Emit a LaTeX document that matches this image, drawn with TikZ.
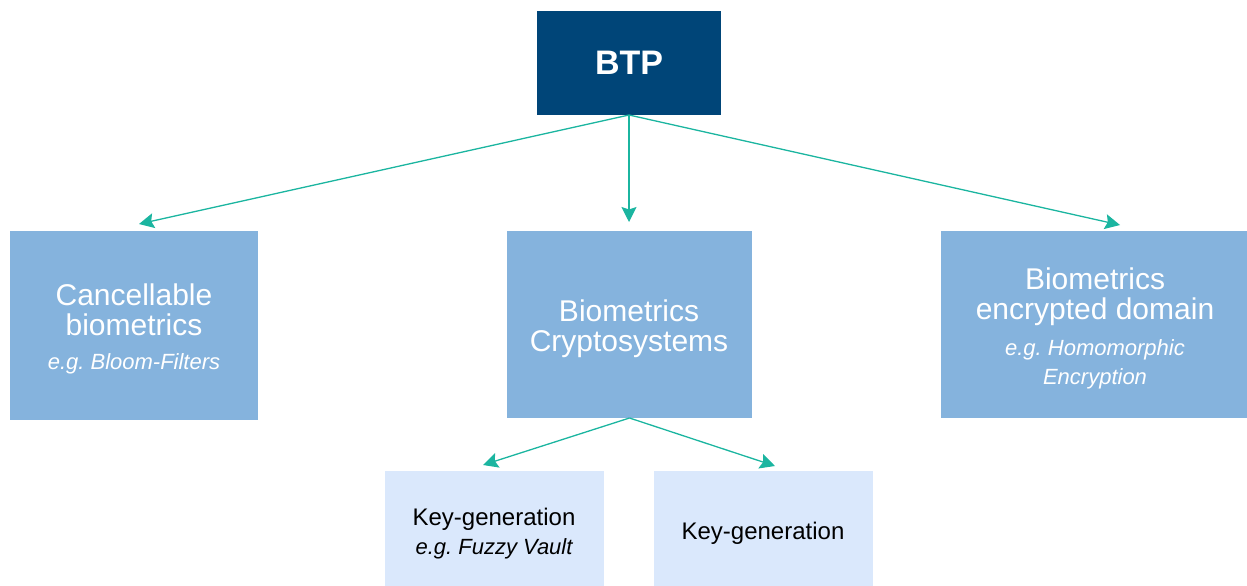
\documentclass[tikz,border=0pt]{standalone}
\usepackage{fontspec}
\setmainfont{Liberation Sans}
\usetikzlibrary{arrows.meta}
\definecolor{btpblue}{HTML}{004578}
\definecolor{midblue}{HTML}{85B3DD}
\definecolor{lightblue}{HTML}{DAE8FC}
\definecolor{teal}{HTML}{1BB5A0}
\tikzset{
  box/.style={inner sep=0pt, outer sep=0pt, align=center, anchor=center},
  topbox/.style={box, fill=btpblue, text=white, font=\fontsize{34}{36}\selectfont\bfseries},
  midbox/.style={box, fill=midblue, text=white, font=\fontsize{30}{30}\selectfont},
  lowbox/.style={box, fill=lightblue, text=black, font=\fontsize{24}{30}\selectfont},
  conn/.style={draw=teal, line width=1.3pt, -{Stealth[length=15pt,width=15pt,inset=2.5pt]}},
  eg/.style={font=\fontsize{22}{28}\selectfont\itshape}
}
\begin{document}
\frenchspacing
\begin{tikzpicture}[x=1pt,y=-1pt]
\useasboundingbox (0,0) rectangle (1247,586);
\node[topbox, minimum width=184pt, minimum height=104pt] (btp) at (629,63) {BTP};
\node[midbox, minimum width=248pt, minimum height=189pt] (cancel) at (134,325.5) {};
\node[midbox, minimum width=245pt, minimum height=187pt] (crypto) at (629.5,324.5) {};
\node[midbox, minimum width=306pt, minimum height=187pt] (encr) at (1094,324.5) {};
\node[lowbox, minimum width=219pt, minimum height=115pt] (kg1) at (494.5,528.5) {};
\node[lowbox, minimum width=219pt, minimum height=115pt] (kg2) at (763.5,528.5) {};
% texts
\node[box, text=white, font=\fontsize{30}{30}\selectfont] (cancelt) at (134,310) {Cancellable\\biometrics};
\node[box, text=white, eg] (cancele) at (134,364) {e.g. Bloom-Filters};
\node[box, text=white, font=\fontsize{30}{30}\selectfont] (cryptot) at (629,329) {Biometrics\\Cryptosystems};
\node[box, text=white, font=\fontsize{30}{30}\selectfont] (encrt) at (1095,297) {Biometrics\\encrypted domain};
\node[box, text=white, font=\fontsize{22}{29}\selectfont\itshape] (encre) at (1095,364) {e.g. Homomorphic\\Encryption};
\node[box, text=black, font=\fontsize{24}{30}\selectfont] (kg1t) at (494,519) {Key-generation};
\node[box, text=black, eg] (kg1e) at (494,549) {e.g. Fuzzy Vault};
\node[box, text=black, font=\fontsize{24}{30}\selectfont] (kg2t) at (763,533) {Key-generation};
% connector ends
\coordinate (t1) at (139,224);
\coordinate (t2) at (629,222);
\coordinate (t3) at (1120,225);
\coordinate (t4) at (483,465);
\coordinate (t5) at (775,466);
\draw[conn] (btp.south) -- (t1);
\draw[conn] (btp.south) -- (t2);
\draw[conn] (btp.south) -- (t3);
\draw[conn] (crypto.south) -- (t4);
\draw[conn] (crypto.south) -- (t5);
\end{tikzpicture}
\end{document}
